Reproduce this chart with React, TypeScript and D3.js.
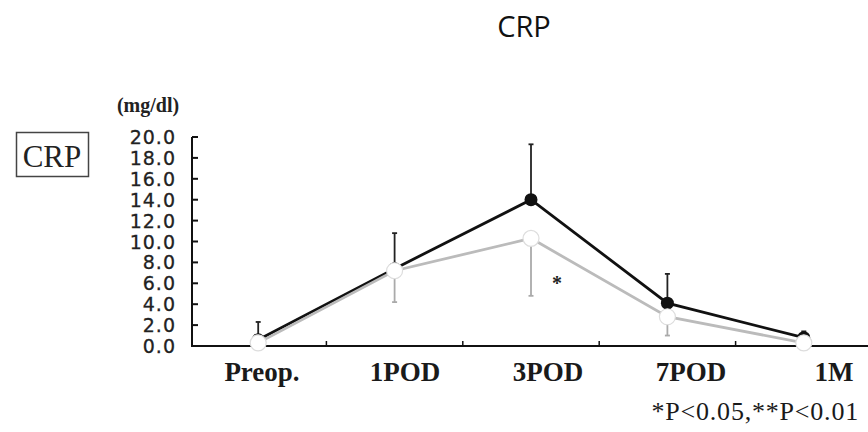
import React from "react";
import { scaleBand, scaleLinear, scalePoint, range, format, line } from "d3";

const categories = ["Preop.", "1POD", "3POD", "7POD", "1M"];
// filled (black) group: means and upper SD ends
const blackMean = [0.6, 7.4, 14.0, 4.1, 0.8];
const blackUpper = [2.3, 10.8, 19.3, 6.9, 1.4];
// open (white) group: means and lower SD ends
const whiteMean = [0.3, 7.2, 10.3, 2.8, 0.3];
const whiteLower = [0.3, 4.2, 4.8, 1.0, 0.2];
const yTicks = range(0, 20.01, 2);

const W = 868;
const H = 432;

export default function App() {
  const x = scaleBand().domain(categories).range([190, 872]);
  const xLabel = scalePoint().domain(categories).range([262, 834]);
  const y = scaleLinear().domain([0, 20]).range([346, 137]);
  const cx = (i: number) => x(categories[i])! + x.bandwidth() / 2;
  const fmt = format(".1f");
  const path = line<number>()
    .x((d, i) => cx(i))
    .y((d) => y(d));
  const boundaries = categories.slice(1).map((c) => x(c)!);

  return (
    <svg width={W} height={H} style={{ position: "absolute", left: 0, top: 0, background: "#fff" }}>
      <text x={524} y={37} textAnchor="middle" fontFamily="Open Sans" fontSize={29} fill="#111">
        CRP
      </text>

      {/* boxed label */}
      <rect x={16.5} y={132.5} width={72} height={44} fill="none" stroke="#444" strokeWidth={1.5} />
      <text x={52} y={167} textAnchor="middle" fontFamily="Liberation Serif" fontSize={31} fill="#222">
        CRP
      </text>
      <text x={148} y={112} textAnchor="middle" fontFamily="Liberation Serif" fontWeight="bold" fontSize={20} fill="#222">
        (mg/dl)
      </text>

      {/* y axis */}
      <line x1={192} x2={192} y1={y(20)} y2={y(0)} stroke="#111" strokeWidth={2} />
      {yTicks.map((t) => (
        <g key={t}>
          <line x1={192} x2={198} y1={y(t)} y2={y(t)} stroke="#111" strokeWidth={2} />
          <text
            x={176}
            y={y(t)}
            dy="0.37em"
            textAnchor="end"
            fontFamily="DejaVu Sans"
            fontSize={19}
            letterSpacing={1}
            fill="#222"
            stroke="#222"
            strokeWidth={0.3}
          >
            {fmt(t)}
          </text>
        </g>
      ))}

      {/* x axis */}
      <line x1={191} x2={W} y1={y(0)} y2={y(0)} stroke="#111" strokeWidth={2} />
      {boundaries.map((b) => (
        <line key={b} x1={b} x2={b} y1={y(0)} y2={y(0) - 5} stroke="#111" strokeWidth={1.5} />
      ))}
      {categories.map((c) => (
        <text
          key={c}
          x={xLabel(c)}
          y={381}
          textAnchor="middle"
          fontFamily="Liberation Serif"
          fontWeight="bold"
          fontSize={27}
          fill="#1a1a1a"
        >
          {c}
        </text>
      ))}

      {/* error bars */}
      {blackMean.map((m, i) => (
        <g key={"be" + i}>
          <line x1={cx(i)} x2={cx(i)} y1={y(m)} y2={y(blackUpper[i])} stroke="#222" strokeWidth={1.8} />
          <line x1={cx(i) - 2.5} x2={cx(i) + 2.5} y1={y(blackUpper[i])} y2={y(blackUpper[i])} stroke="#222" strokeWidth={1.8} />
        </g>
      ))}
      {whiteMean.map((m, i) => (
        <g key={"we" + i}>
          <line x1={cx(i)} x2={cx(i)} y1={y(m)} y2={y(whiteLower[i])} stroke="#aaa" strokeWidth={1.8} />
          <line x1={cx(i) - 2.5} x2={cx(i) + 2.5} y1={y(whiteLower[i])} y2={y(whiteLower[i])} stroke="#aaa" strokeWidth={1.8} />
        </g>
      ))}

      {/* lines */}
      <path d={path(blackMean) ?? ""} fill="none" stroke="#111" strokeWidth={2.8} />
      <path d={path(whiteMean) ?? ""} fill="none" stroke="#bbb" strokeWidth={2.8} />

      {/* markers */}
      {blackMean.map((m, i) => (
        <circle key={"bm" + i} cx={cx(i)} cy={y(m)} r={6.5} fill="#111" />
      ))}
      {whiteMean.map((m, i) => (
        <circle key={"wm" + i} cx={cx(i)} cy={y(m)} r={8} fill="#fff" stroke="#ddd" strokeWidth={1.2} />
      ))}

      <text x={cx(2) + 26} y={y(6.2) + 9} textAnchor="middle" fontFamily="Liberation Serif" fontWeight="bold" fontSize={20} fill="#222">
        *
      </text>

      <text x={859} y={420} textAnchor="end" fontFamily="Liberation Serif" fontSize={26} letterSpacing={0.8} fill="#1a1a1a">
        *P&lt;0.05,**P&lt;0.01
      </text>
    </svg>
  );
}
